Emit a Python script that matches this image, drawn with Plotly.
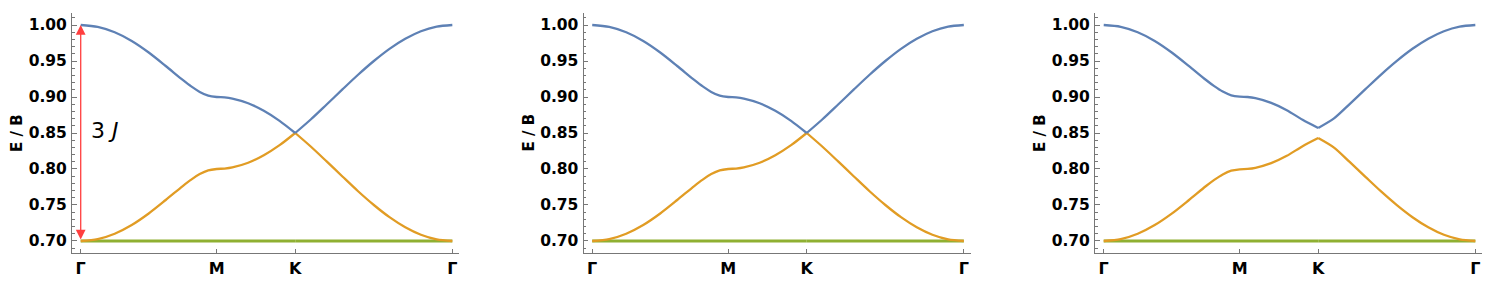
import plotly.graph_objects as go

# ---- data ----
k_path = [0.0, 0.125, 0.25, 0.375, 0.5, 0.625, 0.75, 0.8125, 0.875, 0.9375, 1.0,
          1.058, 1.115, 1.231, 1.346, 1.462, 1.577,
          1.693, 1.808, 1.924, 2.039, 2.155, 2.270, 2.386, 2.501, 2.617, 2.732]
k_tick_vals = [0.0, 1.0, 1.577, 2.732]
k_tick_text = ["Γ", "M", "K", "Γ"]
K_INDEX = 16

upper_a = [1.000, 0.9974, 0.9899, 0.9778, 0.9618, 0.9431, 0.9237, 0.9147, 0.9071, 0.9019, 0.9000,
           0.8995, 0.8978, 0.8914, 0.8809, 0.8669, 0.8500,
           0.8691, 0.8896, 0.9105, 0.9309, 0.9500, 0.9669, 0.9809, 0.9914, 0.9978, 1.000]
middle_a = [0.700, 0.7026, 0.7101, 0.7222, 0.7382, 0.7569, 0.7763, 0.7853, 0.7929, 0.7981, 0.8000,
            0.8006, 0.8022, 0.8087, 0.8191, 0.8331, 0.8500,
            0.8309, 0.8105, 0.7896, 0.7691, 0.7500, 0.7331, 0.7191, 0.7087, 0.7022, 0.700]
flat_a = [0.700] * 27

upper_c = [1.000, 0.9975, 0.9900, 0.9779, 0.9619, 0.9433, 0.9240, 0.9151, 0.9075, 0.9024, 0.9005,
           0.9000, 0.8983, 0.8919, 0.8817, 0.8683, 0.8570,
           0.8703, 0.8902, 0.9109, 0.9312, 0.9502, 0.9670, 0.9810, 0.9914, 0.9978, 1.000]
middle_c = [0.700, 0.7025, 0.7100, 0.7221, 0.7380, 0.7566, 0.7760, 0.7849, 0.7925, 0.7976, 0.7995,
            0.8001, 0.8017, 0.8081, 0.8183, 0.8317, 0.8430,
            0.8297, 0.8098, 0.7891, 0.7688, 0.7498, 0.7330, 0.7190, 0.7086, 0.7022, 0.700]
flat_c = [0.700] * 27

panels = [
    (upper_a, middle_a, flat_a),
    (upper_a, middle_a, flat_a),
    (upper_c, middle_c, flat_c),
]

y_ticks = [0.70, 0.75, 0.80, 0.85, 0.90, 0.95, 1.00]
gap_label = "3 <i>J</i>"
gap_top, gap_bottom = 1.00, 0.70

# ---- styling ----
W, H = 1505, 299
BLUE, ORANGE, GREEN = "#5E81B5", "#E19C24", "#8FB032"
AXIS = "#777777"
FONT = "DejaVu Sans"

x_dom_px = [(72, 459), (583.5, 970.5), (1095, 1482)]
y_dom = [(H - 253) / H, (H - 13) / H]
x_range = [-0.064, 2.781]
y_range = [0.6833, 1.0167]

fig = go.Figure()

for i, (up, mid, flat) in enumerate(panels):
    xa = "x" if i == 0 else f"x{i+1}"
    ya = "y" if i == 0 else f"y{i+1}"
    for vals, col, w in [(flat, GREEN, 2.8), (mid, ORANGE, 2.3), (up, BLUE, 2.3)]:
        for seg in (slice(0, K_INDEX + 1), slice(K_INDEX, None)):
            fig.add_trace(go.Scatter(
                x=k_path[seg], y=vals[seg], mode="lines",
                line=dict(color=col, width=w, shape="spline", smoothing=0.8),
                xaxis=xa, yaxis=ya, showlegend=False, hoverinfo="skip"))

    sfx = "" if i == 0 else str(i + 1)
    x0, x1 = x_dom_px[i]
    fig.layout["xaxis" + sfx] = dict(
        domain=[x0 / W, x1 / W], range=x_range, anchor=ya,
        showline=True, linecolor=AXIS, linewidth=1,
        showgrid=False, zeroline=False,
        tickmode="array", tickvals=k_tick_vals, ticktext=k_tick_text,
        ticks="inside", ticklen=4, tickcolor=AXIS,
        tickfont=dict(family=FONT, size=16, color="black", weight="bold"),
        ticklabelstandoff=1)
    fig.layout["yaxis" + sfx] = dict(
        domain=y_dom, range=y_range, anchor=xa,
        showline=True, linecolor=AXIS, linewidth=1,
        showgrid=False, zeroline=False,
        tickmode="array", tickvals=y_ticks,
        ticktext=[f"{v:.2f}" for v in y_ticks],
        ticks="inside", ticklen=4.5, tickcolor=AXIS,
        minor=dict(dtick=0.01, tick0=0.70, ticks="inside", ticklen=2.5,
                   tickcolor=AXIS, showgrid=False),
        tickfont=dict(family=FONT, size=15.5, color="black", weight="bold"),
        ticklabelstandoff=1)
    fig.add_annotation(
        x=(x0 - 55) / W, y=(y_dom[0] + y_dom[1]) / 2, xref="paper", yref="paper",
        text="E / B", textangle=-90, showarrow=False,
        xanchor="center", yanchor="middle",
        font=dict(family=FONT, size=15, color="black", weight="bold"))

# 3J double arrow on the first panel
fig.add_annotation(
    x=k_path[0], y=gap_top, ax=k_path[0], ay=gap_bottom,
    xref="x", yref="y", axref="x", ayref="y",
    text="", showarrow=True, arrowhead=2, arrowside="end+start",
    arrowsize=1.5, arrowwidth=1.3, arrowcolor="rgba(255,30,30,0.85)",
    standoff=0, startstandoff=0)
fig.add_annotation(
    x=0.058, y=(gap_top + gap_bottom) / 2 + 0.003, xref="x", yref="y",
    text=gap_label, showarrow=False, xanchor="left", yanchor="middle",
    font=dict(family=FONT, size=22, color="black"))

fig.update_layout(
    width=W, height=H, margin=dict(l=0, r=0, t=0, b=0),
    paper_bgcolor="white", plot_bgcolor="white", showlegend=False)

fig.write_html("out.html")
